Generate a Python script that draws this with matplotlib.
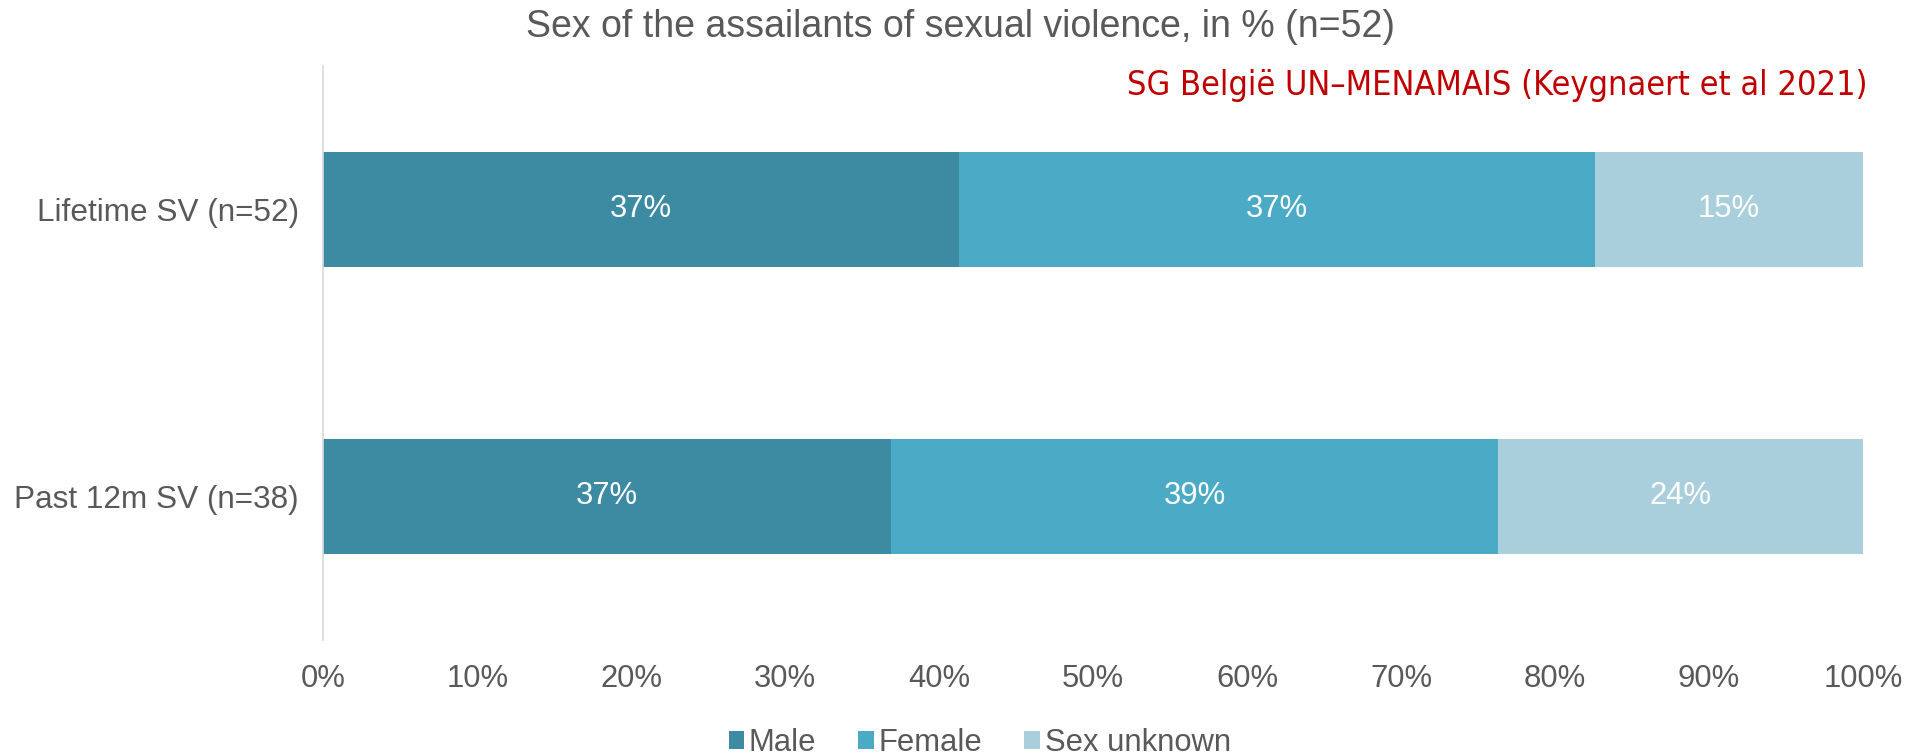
import matplotlib
matplotlib.use("Agg")
import matplotlib.pyplot as plt
from matplotlib.patches import Patch
import numpy as np

categories = ["Lifetime SV (n=52)", "Past 12m SV (n=38)"]
series_names = ["Male", "Female", "Sex unknown"]
# percentages of respondents (n) per category
male = [36.54, 36.84]
female = [36.54, 39.47]
unknown = [15.38, 23.68]
colors = ["#3C8BA3", "#4BABC6", "#A9CFDC"]
xticks = [0, 10, 20, 30, 40, 50, 60, 70, 80, 90, 100]

plt.rcParams['font.family'] = ['Liberation Sans', 'DejaVu Sans']
gray = "#595959"

fig = plt.figure(figsize=(19.21, 7.54), dpi=100)
ax = fig.add_axes([0.1683, 0.1512, 0.9698 - 0.1683, 0.9125 - 0.1512])

data = np.array([male, female, unknown])
totals = data.sum(axis=0)
shares = data / totals * 100
y = np.arange(len(categories))
left = np.zeros(len(categories))
for i, name in enumerate(series_names):
    ax.barh(y, shares[i], left=left, height=0.4, color=colors[i], label=name)
    for j in range(len(categories)):
        ax.text(left[j] + shares[i][j] / 2, y[j], f"{data[i][j]:.0f}%",
                ha='center', va='center', color='white', fontsize=22.3)
    left += shares[i]

ax.set_xlim(0, 100)
ax.set_ylim(1.5, -0.5)
ax.set_yticks(y)
ax.set_yticklabels(categories, fontsize=22.7, color=gray)
ax.set_xticks(xticks)
ax.set_xticklabels([f"{t}%" for t in xticks], fontsize=22.3, color=gray)
ax.tick_params(axis='both', length=0)
ax.tick_params(axis='x', pad=17.0)
ax.tick_params(axis='y', pad=17.7)
for s in ['top', 'right', 'bottom']:
    ax.spines[s].set_visible(False)
ax.spines['left'].set_color('#D9D9D9')
ax.spines['left'].set_linewidth(1.2)

fig.text(0.5, 0.9637, "Sex of the assailants of sexual violence, in % (n=52)",
         ha='center', va='center', fontsize=27, color=gray)
fig.text(0.9724, 0.886, "SG België UN–MENAMAIS (Keygnaert et al 2021)",
         ha='right', va='center', fontsize=24.6, color="#C00000",
         family='DejaVu Sans', fontstretch='condensed')

handles = [Patch(facecolor=c, label=n) for c, n in zip(colors, series_names)]
fig.legend(handles=handles, loc='center', bbox_to_anchor=(0.51, 0.015),
           ncol=3, frameon=False, fontsize=22.3, handlelength=0.5,
           handleheight=0.5, handletextpad=0.16, columnspacing=1.35,
           labelcolor=gray)

fig.savefig("out.png", dpi=100)
